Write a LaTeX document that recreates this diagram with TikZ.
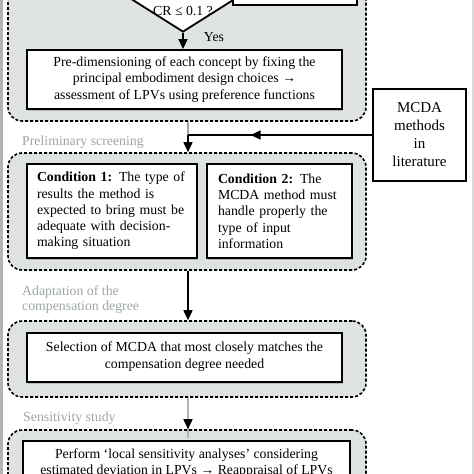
\documentclass[tikz,border=0pt]{standalone}
\usepackage{fontspec}
\setmainfont{Liberation Serif}
\usetikzlibrary{arrows.meta,shapes.geometric,decorations.markings,shadows}
\definecolor{grpfill}{HTML}{DEE2E2}
\definecolor{lblgray}{HTML}{9EA6A6}
\begin{document}
\begin{tikzpicture}[x=1pt,y=-1pt,
  group/.style={draw=black,fill=grpfill,line width=1.6pt,dash pattern=on 3pt off 2pt,rounded corners=14pt,inner sep=0pt},
  inbox/.style={draw=black,fill=white,line width=1.8pt,inner sep=0pt,drop shadow={shadow xshift=0.8pt,shadow yshift=-1.6pt,fill=black!40,opacity=0.6}},
  txt/.style={font=\fontsize{13.8}{16.3}\selectfont,inner sep=0pt,align=center},
  lbl/.style={font=\fontsize{13.8}{15.5}\selectfont,text=lblgray,inner sep=0pt,align=left,anchor=west},
  conn/.style={line width=1.6pt,draw=black},
  tip/.style={-{Triangle[length=10pt,width=9pt]}}
]
\useasboundingbox (0,0) rectangle (474,474);
\clip (0,0) rectangle (474,474);
\fill[white] (0,0) rectangle (474,474);
\fill[black!30] (0,0) rectangle (2.5,474);
\fill[black!15] (471.8,0) rectangle (474,474);

% groups
\node[group,minimum width=358pt,minimum height=181pt] (g1) at (187,30.5) {};
\node[group,minimum width=358pt,minimum height=117pt] (g2) at (187,211.5) {};
\node[group,minimum width=358pt,minimum height=76pt] (g3) at (187,359) {};
\node[group,minimum width=358pt,minimum height=100pt] (g4) at (187,480) {};

% section labels
\node[lbl] (l2) at (22,142) {Preliminary screening};
\node[lbl] (l3) at (22,299.5) {Adaptation of the\\compensation degree};
\node[lbl] (l4) at (23,418) {Sensitivity study};

% top part
\node[diamond,draw=black,fill=white,line width=1.8pt,minimum width=120pt,minimum height=76pt,inner sep=0pt] (dia) at (183,-6) {};
\node[txt] (cr) at (183,11) {CR ≤ 0.1 ?};
\node[draw=black,fill=white,line width=1.8pt,minimum width=124pt,minimum height=45pt,inner sep=0pt] (nobox) at (295,-17.5) {};
\node[txt,anchor=center] (yes) at (214,37) {Yes};

\node[inbox,minimum width=315pt,minimum height=59pt] (pre) at (184.5,79.5) {};
\node[txt] (pret) at (pre.center) {Pre-dimensioning of each concept by fixing the\\principal embodiment design choices →\\assessment of LPVs using preference functions};

\node[draw=black,fill=white,line width=1.3pt,minimum width=93pt,minimum height=92pt,inner sep=0pt,font=\fontsize{15}{18}\selectfont,align=center] (mcda) at (419.5,135) {MCDA\\methods\\in\\literature};

\node[inbox,minimum width=170pt,minimum height=94pt] (c1) at (112,211) {};
\node[txt,align=left,text width=150pt] (c1t) at (c1.center) {\textbf{Condition 1:} The type of\\results the method is\\expected to bring must be\\adequate with decision-\\making situation};
\node[inbox,minimum width=145pt,minimum height=94pt] (c2) at (279.5,211) {};
\node[txt,align=left,text width=123pt] (c2t) at (c2.center) {\textbf{Condition 2:} The\\MCDA method must\\handle properly the\\type of input\\information};

\node[inbox,minimum width=315pt,minimum height=49pt] (sel) at (184.5,357.5) {};
\node[txt] (selt) at (184.5,356.5) {Selection of MCDA that most closely matches the\\compensation degree needed};

\node[inbox,minimum width=327pt,minimum height=58pt] (perf) at (186.5,470) {};
\node[txt,anchor=north] (perft) at (186.5,448.5) {Perform ‘local sensitivity analyses’ considering\\estimated deviation in LPVs → Reappraisal of LPVs};

% connectors
\coordinate (j1) at (188,135);
\draw[conn,tip] (dia.south) -- (dia.south |- pre.north);
\draw[line width=1.2pt,draw=black!35] (j1 |- g1.south) -- (j1);
\draw[conn,postaction={decorate},decoration={markings,mark=at position 0.66 with {\arrow{Triangle[length=10pt,width=9pt]}}}] (mcda.west |- j1) -- (j1);
\draw[conn,tip] (j1) -- (j1 |- g2.north);
\draw[conn,tip] (j1 |- g2.south) -- (j1 |- g3.north);
\draw[line width=1.2pt,draw=black!30] (j1 |- g3.south) -- ([yshift=-9pt]j1 |- g4.north);
\draw[conn,tip,draw=black,shorten <=24pt] (j1 |- g3.south) -- (j1 |- g4.north);
\end{tikzpicture}
\end{document}
